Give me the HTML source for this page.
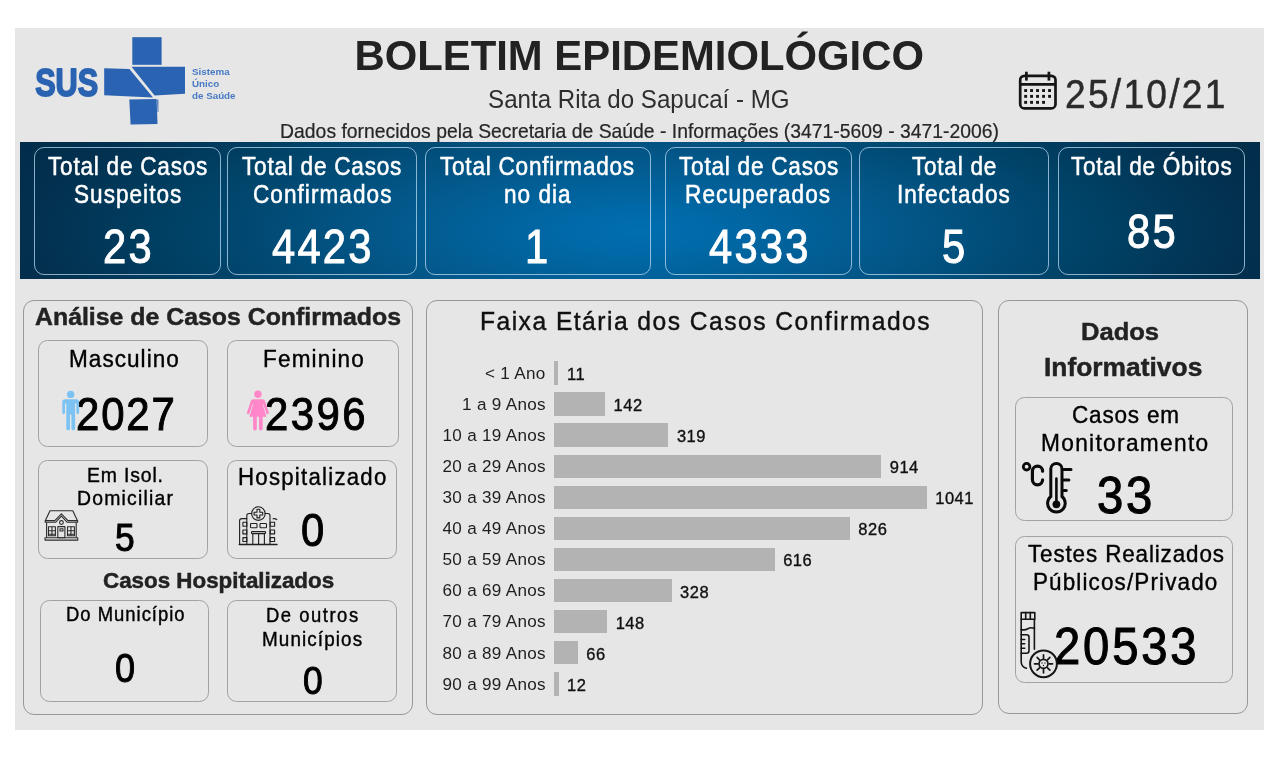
<!DOCTYPE html>
<html lang="pt-BR"><head><meta charset="utf-8"><title>Boletim Epidemiológico - Santa Rita do Sapucaí - MG</title>
<style>
html,body{margin:0;padding:0;background:#fff;}
body{width:1280px;height:759px;position:relative;overflow:hidden;font-family:"Liberation Sans", sans-serif;}
header,main,section,.kpi,.card,.row{display:contents;}
.bg{position:absolute;left:15px;top:28px;width:1249px;height:702px;background:#e6e6e6;}
.band{position:absolute;left:20px;top:142px;width:1240px;height:137px;
background:radial-gradient(ellipse 700px 200px at 50% 65%, #006eb0 0%, #006aa9 10%, #03598c 35%, #003f62 69%, #03304f 87%, #022c49 100%);}
.t{position:absolute;white-space:nowrap;font-family:"Liberation Sans", sans-serif;transform-origin:0 84.65%;}
.bc{position:absolute;box-sizing:border-box;border:1.5px solid rgba(185,218,242,.75);border-radius:10px;}
.pn{position:absolute;box-sizing:border-box;border:1.1px solid #989898;border-radius:11px;}
.cd{position:absolute;box-sizing:border-box;border:1.2px solid #a2a2a2;border-radius:9.5px;}
.bar{position:absolute;background:#b3b3b3;}
svg.ic{position:absolute;left:0;top:0;pointer-events:none;}
</style></head><body>
<div class="bg"></div>
<header>
<svg class="ic" width="1280" height="759" viewBox="0 0 1280 759" aria-hidden="true">
<g fill="#2a63b1">
<text x="35.2" y="96.3" font-family="Liberation Sans, sans-serif" font-weight="700" font-size="38.5" textLength="63" lengthAdjust="spacingAndGlyphs" stroke="#2a63b1" stroke-width="1.8" stroke-linejoin="round">SUS</text>
<rect x="132.3" y="37.2" width="29.3" height="27.6"/>
<polygon points="104.2,68.2 129.4,69 153,97.4 104.2,95.2"/>
<polygon points="131.5,66.8 185,66.8 185,93.8 154.6,95.6"/>
<polygon points="129.3,99.4 156.6,99 157.5,124 130.6,124.5"/>
<polygon points="157.2,99.5 158.4,99.8 158.4,112 157.6,112"/>
</g>
<g fill="#4679c2" font-family="Liberation Sans, sans-serif" font-weight="700" font-size="9.8">
<text x="192" y="74.5">Sistema</text>
<text x="192" y="86.7">Único</text>
<text x="192" y="98.9">de Saúde</text>
</g>
</svg>
<span class="t" style="left:354.44px;top:35.47px;font-size:41.85px;line-height:41.85px;font-weight:700;color:#222222;letter-spacing:0.000px;transform:scale(1.000,1.024);">BOLETIM EPIDEMIOLÓGICO</span>
<span class="t" style="left:488.07px;top:88.49px;font-size:24.11px;line-height:24.11px;font-weight:400;color:#2e2e2e;letter-spacing:0.000px;transform:scale(1.000,1.085);">Santa Rita do Sapucaí - MG</span>
<span class="t" style="left:280.11px;top:122.31px;font-size:19.36px;line-height:19.36px;font-weight:400;color:#262626;letter-spacing:0.000px;-webkit-text-stroke:0.2px #262626;transform:scale(1.000,1.051);">Dados fornecidos pela Secretaria de Saúde - Informações (3471-5609 - 3471-2006)</span>
<svg class="ic" width="1280" height="759" viewBox="0 0 1280 759" aria-hidden="true">
<g fill="none" stroke="#151515" stroke-width="2.7">
<rect x="1020.2" y="75.8" width="35.3" height="32.6" rx="4.2"/>
<line x1="1020" y1="84.3" x2="1056" y2="84.3"/>
<line x1="1026.4" y1="71.7" x2="1026.4" y2="80.6"/>
<line x1="1048.9" y1="71.7" x2="1048.9" y2="80.6"/>
</g>
<g fill="#151515">
<rect x="1024.2" y="89.1" width="2.9" height="2.9"/><rect x="1030.1" y="89.1" width="2.9" height="2.9"/><rect x="1036.1" y="89.1" width="2.9" height="2.9"/><rect x="1042.1" y="89.1" width="2.9" height="2.9"/><rect x="1048.1" y="89.1" width="2.9" height="2.9"/>
<rect x="1024.2" y="94.9" width="2.9" height="2.9"/><rect x="1030.1" y="94.9" width="2.9" height="2.9"/><rect x="1036.1" y="94.9" width="2.9" height="2.9"/><rect x="1042.1" y="94.9" width="2.9" height="2.9"/><rect x="1048.1" y="94.9" width="2.9" height="2.9"/>
<rect x="1024.2" y="100.9" width="2.9" height="2.9"/><rect x="1030.1" y="100.9" width="2.9" height="2.9"/><rect x="1036.1" y="100.9" width="2.9" height="2.9"/><rect x="1042.1" y="100.9" width="2.9" height="2.9"/>
</g>
</svg>
<span class="t" style="left:1064.84px;top:73.55px;font-size:41.29px;line-height:41.29px;font-weight:400;color:#2b2b2b;letter-spacing:2.495px;-webkit-text-stroke:0.5px #2b2b2b;transform:scale(0.900,1.000);">25/10/21</span>
</header>
<main>
<section class="kpis">
<div class="band"></div>
<div class="kpi"><div class="bc" style="left:34.25px;top:147.00px;width:186.75px;height:128.00px"></div>
<span class="t" style="left:47.86px;top:154.78px;font-size:24px;line-height:24px;font-weight:400;color:#ffffff;letter-spacing:0.824px;-webkit-text-stroke:0.5px #ffffff;transform:scale(0.940,1.066);">Total de Casos</span>
<span class="t" style="left:73.69px;top:182.78px;font-size:24px;line-height:24px;font-weight:400;color:#ffffff;letter-spacing:1.096px;-webkit-text-stroke:0.5px #ffffff;transform:scale(0.940,1.066);">Suspeitos</span>
<span class="t" style="left:103.29px;top:221.84px;font-size:48.5px;line-height:48.5px;font-weight:400;color:#ffffff;letter-spacing:2.600px;-webkit-text-stroke:1.0px #ffffff;transform:scale(0.860,1.001);">23</span></div>
<div class="kpi"><div class="bc" style="left:227.00px;top:147.00px;width:189.50px;height:128.00px"></div>
<span class="t" style="left:241.99px;top:154.78px;font-size:24px;line-height:24px;font-weight:400;color:#ffffff;letter-spacing:0.824px;-webkit-text-stroke:0.5px #ffffff;transform:scale(0.940,1.066);">Total de Casos</span>
<span class="t" style="left:252.56px;top:182.78px;font-size:24px;line-height:24px;font-weight:400;color:#ffffff;letter-spacing:1.121px;-webkit-text-stroke:0.5px #ffffff;transform:scale(0.940,1.066);">Confirmados</span>
<span class="t" style="left:272.39px;top:221.84px;font-size:48.5px;line-height:48.5px;font-weight:400;color:#ffffff;letter-spacing:2.600px;-webkit-text-stroke:1.0px #ffffff;transform:scale(0.860,1.001);">4423</span></div>
<div class="kpi"><div class="bc" style="left:425.00px;top:147.00px;width:225.50px;height:128.00px"></div>
<span class="t" style="left:440.41px;top:154.78px;font-size:24px;line-height:24px;font-weight:400;color:#ffffff;letter-spacing:0.819px;-webkit-text-stroke:0.5px #ffffff;transform:scale(0.940,1.066);">Total Confirmados</span>
<span class="t" style="left:503.75px;top:182.78px;font-size:24px;line-height:24px;font-weight:400;color:#ffffff;letter-spacing:1.070px;-webkit-text-stroke:0.5px #ffffff;transform:scale(0.940,1.066);">no dia</span>
<span class="t" style="left:525.28px;top:221.84px;font-size:48.5px;line-height:48.5px;font-weight:400;color:#ffffff;letter-spacing:2.600px;-webkit-text-stroke:1.0px #ffffff;transform:scale(0.860,1.001);">1</span></div>
<div class="kpi"><div class="bc" style="left:665.00px;top:147.00px;width:186.75px;height:128.00px"></div>
<span class="t" style="left:678.61px;top:154.78px;font-size:24px;line-height:24px;font-weight:400;color:#ffffff;letter-spacing:0.824px;-webkit-text-stroke:0.5px #ffffff;transform:scale(0.940,1.066);">Total de Casos</span>
<span class="t" style="left:685.25px;top:182.78px;font-size:24px;line-height:24px;font-weight:400;color:#ffffff;letter-spacing:1.160px;-webkit-text-stroke:0.5px #ffffff;transform:scale(0.940,1.066);">Recuperados</span>
<span class="t" style="left:709.01px;top:221.84px;font-size:48.5px;line-height:48.5px;font-weight:400;color:#ffffff;letter-spacing:2.600px;-webkit-text-stroke:1.0px #ffffff;transform:scale(0.860,1.001);">4333</span></div>
<div class="kpi"><div class="bc" style="left:859.00px;top:147.00px;width:190.00px;height:128.00px"></div>
<span class="t" style="left:911.88px;top:154.78px;font-size:24px;line-height:24px;font-weight:400;color:#ffffff;letter-spacing:0.801px;-webkit-text-stroke:0.5px #ffffff;transform:scale(0.940,1.066);">Total de</span>
<span class="t" style="left:897.00px;top:182.78px;font-size:24px;line-height:24px;font-weight:400;color:#ffffff;letter-spacing:1.032px;-webkit-text-stroke:0.5px #ffffff;transform:scale(0.940,1.066);">Infectados</span>
<span class="t" style="left:942.39px;top:221.84px;font-size:48.5px;line-height:48.5px;font-weight:400;color:#ffffff;letter-spacing:2.600px;-webkit-text-stroke:1.0px #ffffff;transform:scale(0.860,1.001);">5</span></div>
<div class="kpi"><div class="bc" style="left:1057.50px;top:147.00px;width:187.00px;height:128.00px"></div>
<span class="t" style="left:1070.71px;top:154.78px;font-size:24px;line-height:24px;font-weight:400;color:#ffffff;letter-spacing:0.774px;-webkit-text-stroke:0.5px #ffffff;transform:scale(0.940,1.066);">Total de Óbitos</span>
<span class="t" style="left:1126.66px;top:206.64px;font-size:48.5px;line-height:48.5px;font-weight:400;color:#ffffff;letter-spacing:2.600px;-webkit-text-stroke:1.0px #ffffff;transform:scale(0.860,1.001);">85</span></div>
</section>
<section class="analise">
<div class="pn" style="left:23.00px;top:300.00px;width:390.00px;height:414.50px"></div>
<span class="t" style="left:35.14px;top:305.61px;font-size:23.68px;line-height:23.68px;font-weight:700;color:#222222;letter-spacing:-0.000px;-webkit-text-stroke:0.45px #222222;transform:scale(1.050,1.013);">Análise de Casos Confirmados</span>
<div class="card"><div class="cd" style="left:38.25px;top:340.00px;width:170.00px;height:106.75px"></div>
<span class="t" style="left:69.24px;top:347.10px;font-size:23.98px;line-height:23.98px;font-weight:400;color:#000000;letter-spacing:1.111px;-webkit-text-stroke:0.4px #000000;transform:scale(0.940,1.000);">Masculino</span>
<span class="t" style="left:75.66px;top:390.98px;font-size:46.57px;line-height:46.57px;font-weight:400;color:#000000;letter-spacing:2.090px;-webkit-text-stroke:1.0px #000000;transform:scale(0.900,1.000);">2027</span></div>
<div class="card"><div class="cd" style="left:227.00px;top:340.00px;width:172.25px;height:106.75px"></div>
<span class="t" style="left:263.24px;top:347.10px;font-size:23.98px;line-height:23.98px;font-weight:400;color:#000000;letter-spacing:1.242px;-webkit-text-stroke:0.4px #000000;transform:scale(0.940,1.000);">Feminino</span>
<span class="t" style="left:264.66px;top:390.98px;font-size:46.57px;line-height:46.57px;font-weight:400;color:#000000;letter-spacing:2.739px;-webkit-text-stroke:1.0px #000000;transform:scale(0.900,1.000);">2396</span></div>
<div class="card"><div class="cd" style="left:38.25px;top:459.50px;width:170.00px;height:99.75px"></div>
<span class="t" style="left:87.01px;top:464.93px;font-size:20.64px;line-height:20.64px;font-weight:400;color:#000000;letter-spacing:0.899px;-webkit-text-stroke:0.4px #000000;transform:scale(0.940,1.000);">Em Isol.</span>
<span class="t" style="left:76.51px;top:488.18px;font-size:20.64px;line-height:20.64px;font-weight:400;color:#000000;letter-spacing:1.288px;-webkit-text-stroke:0.4px #000000;transform:scale(0.940,1.000);">Domiciliar</span>
<span class="t" style="left:115.15px;top:517.89px;font-size:39.29px;line-height:39.29px;font-weight:400;color:#000000;letter-spacing:0.000px;-webkit-text-stroke:1.0px #000000;transform:scale(0.900,1.000);">5</span></div>
<div class="card"><div class="cd" style="left:227.00px;top:459.50px;width:169.75px;height:99.75px"></div>
<span class="t" style="left:238.27px;top:466.16px;font-size:23.62px;line-height:23.62px;font-weight:400;color:#000000;letter-spacing:1.333px;-webkit-text-stroke:0.4px #000000;transform:scale(0.940,1.000);">Hospitalizado</span>
<span class="t" style="left:301.27px;top:506.60px;font-size:46.43px;line-height:46.43px;font-weight:400;color:#000000;letter-spacing:0.000px;-webkit-text-stroke:1.0px #000000;transform:scale(0.900,1.000);">0</span></div>
<span class="t" style="left:102.91px;top:570.61px;font-size:21.31px;line-height:21.31px;font-weight:700;color:#222222;letter-spacing:0.000px;-webkit-text-stroke:0.45px #222222;transform:scale(1.050,1.023);">Casos Hospitalizados</span>
<div class="card"><div class="cd" style="left:40.00px;top:599.50px;width:169.25px;height:102.75px"></div>
<span class="t" style="left:65.76px;top:605.04px;font-size:19.62px;line-height:19.62px;font-weight:400;color:#000000;letter-spacing:1.064px;-webkit-text-stroke:0.4px #000000;transform:scale(0.940,1.000);">Do Município</span>
<span class="t" style="left:115.47px;top:648.04px;font-size:40.0px;line-height:40.0px;font-weight:400;color:#000000;letter-spacing:0.000px;-webkit-text-stroke:1.0px #000000;transform:scale(0.900,1.000);">0</span></div>
<div class="card"><div class="cd" style="left:227.00px;top:599.50px;width:169.75px;height:102.75px"></div>
<span class="t" style="left:266.26px;top:605.54px;font-size:19.62px;line-height:19.62px;font-weight:400;color:#000000;letter-spacing:1.621px;-webkit-text-stroke:0.4px #000000;transform:scale(0.940,1.000);">De outros</span>
<span class="t" style="left:262.47px;top:628.92px;font-size:20.06px;line-height:20.06px;font-weight:400;color:#000000;letter-spacing:1.185px;-webkit-text-stroke:0.4px #000000;transform:scale(0.940,1.000);">Municípios</span>
<span class="t" style="left:303.15px;top:660.64px;font-size:39.29px;line-height:39.29px;font-weight:400;color:#000000;letter-spacing:0.000px;-webkit-text-stroke:1.0px #000000;transform:scale(0.900,1.000);">0</span></div>
<svg class="ic" width="1280" height="759" viewBox="0 0 1280 759" aria-hidden="true">
<g fill="#7cc3f4">
<circle cx="70.7" cy="394.4" r="3.7"/>
<path d="M65 399.3h11.4a2.7 2.7 0 0 1 2.7 2.700v10.800a1.350 1.350 0 0 1-2.700 0v-9.400h-1.300v25a1.850 1.850 0 0 1-3.700 0v-14h-1.400v14a1.850 1.850 0 0 1-3.700 0v-25h-1.300v9.400a1.350 1.350 0 0 1-2.700 0v-10.800a2.700 2.700 0 0 1 2.700-2.700z"/>
</g>
<g fill="#ff86c8">
<circle cx="257.9" cy="394.2" r="3.7"/>
<path d="M253.300 399.300h9.200a2.600 2.600 0 0 1 2.500 1.800l3.800 11.300a1.300 1.300 0 0 1-2.500.9l-3.300-9.600h-.500l3.900 13.100h-3.700v11.800a1.850 1.850 0 0 1-3.700 0v-11.800h-2.200v11.800a1.850 1.850 0 0 1-3.700 0v-11.800h-3.700l3.900-13.100h-.500l-3.300 9.600a1.300 1.300 0 0 1-2.500-.9l3.800-11.300a2.600 2.600 0 0 1 2.500-1.800z"/>
</g>
<g fill="none" stroke="#2c2c2c" stroke-width="1.1" stroke-linejoin="round">
<path d="M45.4 520.6 50 510.8h22.800000000000004l4.6 9.8"/>
<path d="M45.2 520.6h9.6l6.6-6.8 6.6 6.8h9.6v1.7h-10.3l-5.9-6.1-5.9 6.1h-10.3z"/>
<circle cx="61.4" cy="522.5" r="1.9"/>
<path d="M46.6 522.5v15.200000000000045M76.2 522.5v15.2"/>
<rect x="48.5" y="526.8" width="6.9" height="9"/><path d="M51.95 526.8v9M48.5 530.8h6.9M48.5 534.2h6.9"/>
<rect x="67.5" y="526.8" width="6.9" height="9"/><path d="M70.95 526.8v9M67.500 530.8h6.9M67.500 534.2h6.9"/>
<rect x="57.8" y="526.6" width="7.1" height="11.2"/><rect x="60" y="528.8" width="3" height="2.2"/>
<rect x="45" y="537.8" width="32.8" height="2.3"/>
</g>
<g fill="none" stroke="#1f1f1f" stroke-width="1.1" stroke-linejoin="round" stroke-linecap="round">
<circle cx="258.4" cy="513.6" r="6.8"/>
<path d="M257 509.3h2.8v2.9h2.9v2.8h-2.9v2.900000000000091h-2.800v-2.9h-2.9v-2.8h2.900z"/>
<path d="M251.800 513.5h-2.8a2.2 2.2 0 0 0-2.2 2.200v28.700M265 513.500h2.800a2.200 2.200 0 0 1 2.200 2.200v28.700"/>
<path d="M246.800 518.600h-5a2.200 2.200 0 0 0-2.200 2.200v23.600"/>
<path d="M273 518.800q2.200-.6 3.800.9"/>
<rect x="242.900" y="522.300" width="3.900" height="3.900"/><rect x="242.900" y="530" width="3.900" height="3.900"/><rect x="242.900" y="537.600" width="3.900" height="3.900"/>
<rect x="270.200" y="522.300" width="4.400" height="3.900"/><rect x="270.200" y="530" width="4.400" height="3.900"/><rect x="270.200" y="537.600" width="4.400" height="3.900"/>
<rect x="250.500" y="523.500" width="6.500" height="4.200" rx=".8"/><rect x="260" y="523.500" width="6.500" height="4.200" rx=".8"/>
<rect x="251.500" y="531.600" width="14" height="2" rx=".6"/>
<path d="M252.800 533.600v10.800M264.400 533.600v10.800M258.600 533.600v10.800"/>
<path d="M239.200 544.500h37.900" stroke-width="1.300"/>
</g>
</svg>
</section>
<section class="faixa-etaria">
<div class="pn" style="left:425.50px;top:300.00px;width:557.00px;height:414.50px"></div>
<span class="t" style="left:480.01px;top:307.75px;font-size:26.16px;line-height:26.16px;font-weight:400;color:#111111;letter-spacing:1.584px;-webkit-text-stroke:0.45px #111111;transform:scale(0.940,1.000);">Faixa Etária dos Casos Confirmados</span>
<div class="row"><span class="t" style="left:485.00px;top:364.77px;font-size:17.1px;line-height:17.1px;font-weight:400;color:#1e1e1e;letter-spacing:0.300px;transform:scale(1.000,0.986);">&lt; 1 Ano</span><div class="bar" style="left:554.25px;top:361.25px;width:4.20px;height:23.40px"></div><span class="t" style="left:566.95px;top:365.93px;font-size:16.5px;line-height:16.5px;font-weight:400;color:#111111;letter-spacing:0.500px;-webkit-text-stroke:0.35px #111111;transform:scale(1.000,1.039);">11</span></div>
<div class="row"><span class="t" style="left:462.10px;top:395.86px;font-size:17.1px;line-height:17.1px;font-weight:400;color:#1e1e1e;letter-spacing:0.300px;transform:scale(1.000,0.986);">1 a 9 Anos</span><div class="bar" style="left:554.25px;top:392.34px;width:50.81px;height:23.40px"></div><span class="t" style="left:613.56px;top:397.02px;font-size:16.5px;line-height:16.5px;font-weight:400;color:#111111;letter-spacing:0.500px;-webkit-text-stroke:0.35px #111111;transform:scale(1.000,1.039);">142</span></div>
<div class="row"><span class="t" style="left:442.50px;top:426.95px;font-size:17.1px;line-height:17.1px;font-weight:400;color:#1e1e1e;letter-spacing:0.300px;transform:scale(1.000,0.986);">10 a 19 Anos</span><div class="bar" style="left:554.25px;top:423.43px;width:114.14px;height:23.40px"></div><span class="t" style="left:676.89px;top:428.11px;font-size:16.5px;line-height:16.5px;font-weight:400;color:#111111;letter-spacing:0.500px;-webkit-text-stroke:0.35px #111111;transform:scale(1.000,1.039);">319</span></div>
<div class="row"><span class="t" style="left:442.50px;top:458.04px;font-size:17.1px;line-height:17.1px;font-weight:400;color:#1e1e1e;letter-spacing:0.300px;transform:scale(1.000,0.986);">20 a 29 Anos</span><div class="bar" style="left:554.25px;top:454.52px;width:327.03px;height:23.40px"></div><span class="t" style="left:889.78px;top:459.20px;font-size:16.5px;line-height:16.5px;font-weight:400;color:#111111;letter-spacing:0.500px;-webkit-text-stroke:0.35px #111111;transform:scale(1.000,1.039);">914</span></div>
<div class="row"><span class="t" style="left:442.50px;top:489.13px;font-size:17.1px;line-height:17.1px;font-weight:400;color:#1e1e1e;letter-spacing:0.300px;transform:scale(1.000,0.986);">30 a 39 Anos</span><div class="bar" style="left:554.25px;top:485.61px;width:372.47px;height:23.40px"></div><span class="t" style="left:935.22px;top:490.29px;font-size:16.5px;line-height:16.5px;font-weight:400;color:#111111;letter-spacing:0.500px;-webkit-text-stroke:0.35px #111111;transform:scale(1.000,1.039);">1041</span></div>
<div class="row"><span class="t" style="left:442.50px;top:520.22px;font-size:17.1px;line-height:17.1px;font-weight:400;color:#1e1e1e;letter-spacing:0.300px;transform:scale(1.000,0.986);">40 a 49 Anos</span><div class="bar" style="left:554.25px;top:516.70px;width:295.54px;height:23.40px"></div><span class="t" style="left:858.29px;top:521.38px;font-size:16.5px;line-height:16.5px;font-weight:400;color:#111111;letter-spacing:0.500px;-webkit-text-stroke:0.35px #111111;transform:scale(1.000,1.039);">826</span></div>
<div class="row"><span class="t" style="left:442.50px;top:551.31px;font-size:17.1px;line-height:17.1px;font-weight:400;color:#1e1e1e;letter-spacing:0.300px;transform:scale(1.000,0.986);">50 a 59 Anos</span><div class="bar" style="left:554.25px;top:547.79px;width:220.40px;height:23.40px"></div><span class="t" style="left:783.15px;top:552.47px;font-size:16.5px;line-height:16.5px;font-weight:400;color:#111111;letter-spacing:0.500px;-webkit-text-stroke:0.35px #111111;transform:scale(1.000,1.039);">616</span></div>
<div class="row"><span class="t" style="left:442.50px;top:582.40px;font-size:17.1px;line-height:17.1px;font-weight:400;color:#1e1e1e;letter-spacing:0.300px;transform:scale(1.000,0.986);">60 a 69 Anos</span><div class="bar" style="left:554.25px;top:578.88px;width:117.36px;height:23.40px"></div><span class="t" style="left:680.11px;top:583.56px;font-size:16.5px;line-height:16.5px;font-weight:400;color:#111111;letter-spacing:0.500px;-webkit-text-stroke:0.35px #111111;transform:scale(1.000,1.039);">328</span></div>
<div class="row"><span class="t" style="left:442.50px;top:613.49px;font-size:17.1px;line-height:17.1px;font-weight:400;color:#1e1e1e;letter-spacing:0.300px;transform:scale(1.000,0.986);">70 a 79 Anos</span><div class="bar" style="left:554.25px;top:609.97px;width:52.95px;height:23.40px"></div><span class="t" style="left:615.70px;top:614.65px;font-size:16.5px;line-height:16.5px;font-weight:400;color:#111111;letter-spacing:0.500px;-webkit-text-stroke:0.35px #111111;transform:scale(1.000,1.039);">148</span></div>
<div class="row"><span class="t" style="left:442.50px;top:644.58px;font-size:17.1px;line-height:17.1px;font-weight:400;color:#1e1e1e;letter-spacing:0.300px;transform:scale(1.000,0.986);">80 a 89 Anos</span><div class="bar" style="left:554.25px;top:641.06px;width:23.61px;height:23.40px"></div><span class="t" style="left:586.36px;top:645.74px;font-size:16.5px;line-height:16.5px;font-weight:400;color:#111111;letter-spacing:0.500px;-webkit-text-stroke:0.35px #111111;transform:scale(1.000,1.039);">66</span></div>
<div class="row"><span class="t" style="left:442.50px;top:675.67px;font-size:17.1px;line-height:17.1px;font-weight:400;color:#1e1e1e;letter-spacing:0.300px;transform:scale(1.000,0.986);">90 a 99 Anos</span><div class="bar" style="left:554.25px;top:672.15px;width:4.29px;height:23.40px"></div><span class="t" style="left:567.04px;top:676.83px;font-size:16.5px;line-height:16.5px;font-weight:400;color:#111111;letter-spacing:0.500px;-webkit-text-stroke:0.35px #111111;transform:scale(1.000,1.039);">12</span></div>
</section>
<section class="dados-informativos">
<div class="pn" style="left:998.00px;top:300.00px;width:249.50px;height:413.50px"></div>
<span class="t" style="left:1080.59px;top:320.04px;font-size:24.34px;line-height:24.34px;font-weight:700;color:#222222;letter-spacing:0.000px;-webkit-text-stroke:0.45px #222222;transform:scale(1.050,1.015);">Dados</span>
<span class="t" style="left:1043.78px;top:354.87px;font-size:25.13px;line-height:25.13px;font-weight:700;color:#222222;letter-spacing:-0.000px;-webkit-text-stroke:0.45px #222222;transform:scale(1.050,1.018);">Informativos</span>
<div class="card"><div class="cd" style="left:1015.00px;top:397.00px;width:218.25px;height:123.50px"></div>
<span class="t" style="left:1071.72px;top:403.35px;font-size:23.98px;line-height:23.98px;font-weight:400;color:#000000;letter-spacing:0.852px;-webkit-text-stroke:0.4px #000000;transform:scale(0.940,1.000);">Casos em</span>
<span class="t" style="left:1041.48px;top:431.48px;font-size:24.13px;line-height:24.13px;font-weight:400;color:#000000;letter-spacing:1.413px;-webkit-text-stroke:0.4px #000000;transform:scale(0.940,1.000);">Monitoramento</span>
<span class="t" style="left:1097.47px;top:469.21px;font-size:52.5px;line-height:52.5px;font-weight:400;color:#000000;letter-spacing:3.082px;-webkit-text-stroke:1.1px #000000;transform:scale(0.900,1.000);">33</span></div>
<div class="card"><div class="cd" style="left:1015.00px;top:536.25px;width:218.25px;height:146.75px"></div>
<span class="t" style="left:1027.70px;top:542.22px;font-size:23.84px;line-height:23.84px;font-weight:400;color:#000000;letter-spacing:0.941px;-webkit-text-stroke:0.4px #000000;transform:scale(0.940,1.000);">Testes Realizados</span>
<span class="t" style="left:1032.50px;top:570.47px;font-size:23.84px;line-height:23.84px;font-weight:400;color:#000000;letter-spacing:1.236px;-webkit-text-stroke:0.4px #000000;transform:scale(0.940,1.000);">Públicos/Privado</span>
<span class="t" style="left:1054.23px;top:620.02px;font-size:52.43px;line-height:52.43px;font-weight:400;color:#000000;letter-spacing:3.158px;-webkit-text-stroke:1.1px #000000;transform:scale(0.900,1.000);">20533</span></div>
<svg class="ic" width="1280" height="759" viewBox="0 0 1280 759" aria-hidden="true">
<g fill="none" stroke="#0a0a0a" stroke-width="3" stroke-linecap="round">
<circle cx="1026.600" cy="466.700" r="3.300" stroke-width="2.800"/>
<path d="M1042.600 471.200a5.100 5.100 0 0 0-10.200 0v8.600a5.100 5.100 0 0 0 10.200 0" stroke-width="3.200"/>
<path d="M1050.800 496.500v-27.400a5.600 5.600 0 0 1 11.200 0v27.400a8.800 8.800 0 1 1-11.200 0z"/>
<path d="M1063.500 469.600h7.500M1063.500 480.100h5.400M1063.500 490.400h2.800"/>
<path d="M1056.400 478.500v24" stroke-width="2.600"/>
</g>
<circle cx="1056.400" cy="504.300" r="3.900" fill="#0a0a0a"/>
<g fill="none" stroke="#151515" stroke-width="1.600" stroke-linejoin="round" stroke-linecap="round">
<rect x="1021.200" y="612.600" width="13.600" height="6.600"/>
<path d="M1025.700 612.600v6.600M1030.300 612.600v6.600"/>
<path d="M1021.200 619.200v42.500q0 5 5.200 6.600M1034.400 619.200v30"/>
<path d="M1021.200 629.400q3.500 1.200 6.600-.6t6.600-.4"/>
<path d="M1021.200 634.800h5.300a2.500 2.500 0 0 1 2.500 2.500v13.400a2.500 2.500 0 0 1-2.500 2.500h-5.300"/>
<path d="M1021.200 639.500h3.500M1021.200 643.800h3.500M1021.200 648.200h3.500"/>
<circle cx="1043.500" cy="663.800" r="13.400" stroke-width="2" fill="#e6e6e6"/>
<circle cx="1043.500" cy="663.800" r="4.500" stroke-width="1.700"/>
<path d="M1043.500 658.200v-3.400M1043.500 669.400v3.400M1037.900 663.800h-3.400M1049.100 663.800h3.400M1039.500 659.800l-2.400-2.400M1047.500 659.800l2.400-2.400M1039.500 667.800l-2.400 2.400M1047.500 667.800l2.400 2.400" stroke-width="1.700"/>
</g>
<g fill="#151515"><circle cx="1042" cy="663" r=".7"/><circle cx="1045" cy="663" r=".7"/><circle cx="1043.500" cy="665.500" r=".7"/></g>
</svg>
</section>
</main>
</body></html>
